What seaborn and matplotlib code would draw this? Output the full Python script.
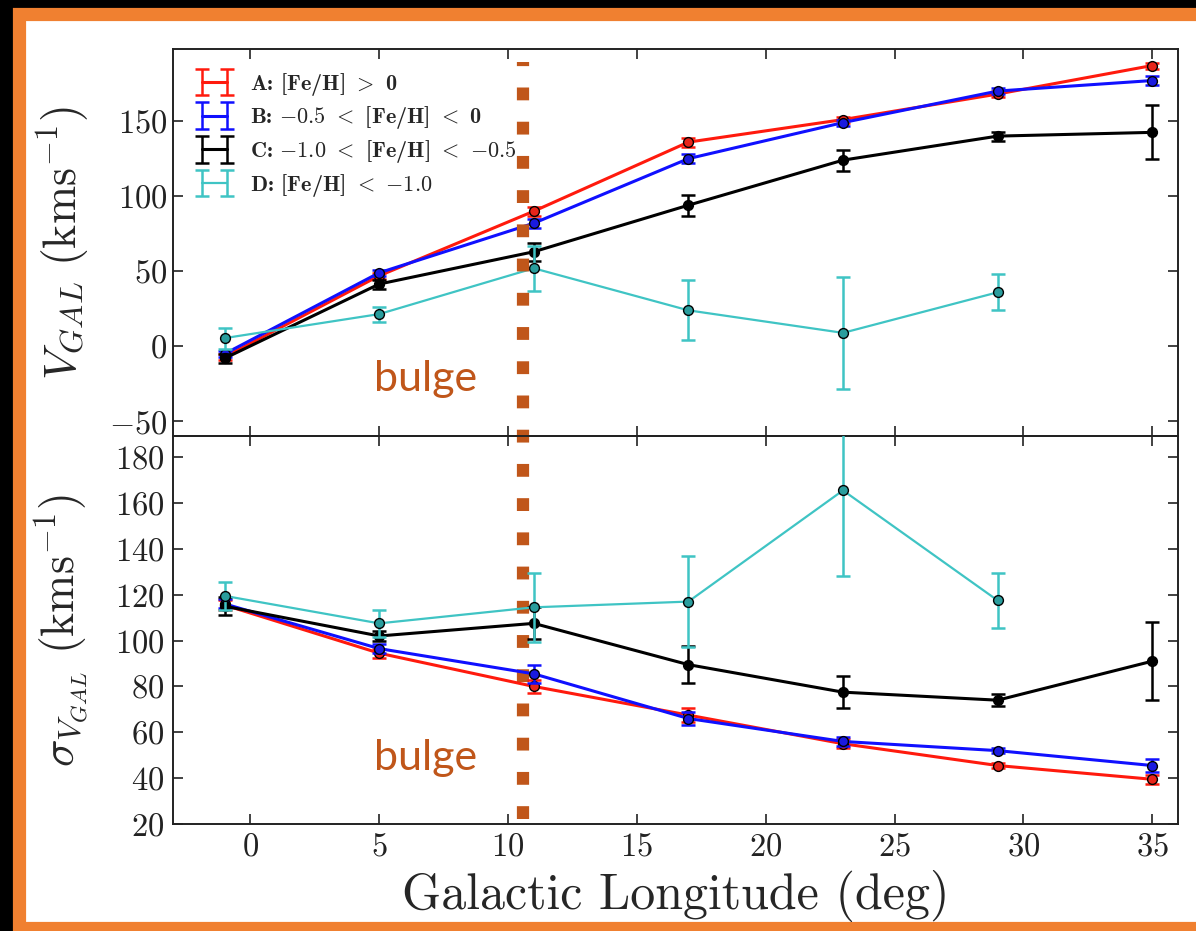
import numpy as np
import pandas as pd
import matplotlib
matplotlib.use("Agg")
import matplotlib.pyplot as plt
import matplotlib.transforms as mtransforms
from matplotlib.patches import Rectangle
from matplotlib.legend_handler import HandlerErrorbar
import seaborn as sns

# ---------------- data ----------------
longitude = [-1, 5, 11, 17, 23, 29, 35]
labels = [r"A: [Fe/H] $>$ 0",
          r"B: $-0.5$ $<$ [Fe/H] $<$ 0",
          r"C: $-1.0$ $<$ [Fe/H] $<$ $-0.5$",
          r"D: [Fe/H] $<$ $-1.0$"]

# mean Galactic velocity (km/s)
v_A = [-7, 47, 90, 136, 151, 168, 187]
v_B = [-5, 49, 82, 125, 149, 170, 177]
v_C = [-8, 41.5, 63, 94, 124, 140, 142.5]
v_D = [5.5, 21.5, 52, 24, 9, 36, np.nan]
ve_A = [2, 2, 3, 3, 2, 2, 2]
ve_B = [2, 2, 3, 3, 2, 2, 3]
ve_C = [3, 3, 6, 7, 7, 3, 18]
ve_D = [7, 5, 15, 20, 37.5, 12, np.nan]

# velocity dispersion (km/s)
s_A = [115.5, 94.5, 80, 67.5, 55, 45.5, 39.5]
s_B = [116, 96.5, 85.5, 66, 56, 52, 45.5]
s_C = [115, 102, 107.5, 89.5, 77.5, 74, 91]
s_D = [119.5, 107.5, 114.5, 117, 165.5, 117.5, np.nan]
se_A = [2, 2, 3, 3, 2, 1, 2]
se_B = [2, 2, 4, 3, 2, 1, 3]
se_C = [4, 2, 7, 8, 7, 2.5, 17]
se_D = [6, 6, 15, 20, 37.5, 12, np.nan]

colors = ["#ff1a0d", "#1010ff", "#000000", "#3fc4c4"]
marker_faces = ["#e8251a", "#1a1ae0", "#000000", "#2a9d9d"]
line_w = [2.2, 2.2, 2.2, 1.6]
bulge_x = 10.6
bulge_color = "#c0561a"

# ---------------- style ----------------
sns.set_theme(style="ticks")
plt.rcParams.update({
    "font.family": ["cmr10", "DejaVu Serif"],
    "mathtext.fontset": "cm",
    "axes.formatter.use_mathtext": True,
    "axes.unicode_minus": True,
    "xtick.direction": "in",
    "ytick.direction": "in",
    "xtick.top": True,
    "ytick.right": True,
    "xtick.major.size": 7,
    "ytick.major.size": 7,
    "xtick.major.width": 1.2,
    "ytick.major.width": 1.2,
    "axes.linewidth": 1.4,
    "axes.edgecolor": "#222222",
    "xtick.color": "#222222",
    "ytick.color": "#222222",
})

fig = plt.figure(figsize=(11.96, 9.31), dpi=100, facecolor="black")
# white card with orange frame
fig.patches.append(Rectangle((18.5 / 1196, 3 / 931), 1.2, 1 - 17 / 931,
                             transform=fig.transFigure, facecolor="white",
                             edgecolor="#f08030", linewidth=9.5, zorder=-10))

gs = fig.add_gridspec(2, 1, left=173 / 1196, right=1178 / 1196,
                      top=1 - 49 / 931, bottom=1 - 824 / 931, hspace=0)
ax1 = fig.add_subplot(gs[0])
ax2 = fig.add_subplot(gs[1], sharex=ax1)
ax1.set_facecolor("none")
ax2.set_facecolor("none")

def draw(ax, ys, errs, with_label):
    for i, (y, e) in enumerate(zip(ys, errs)):
        y = np.asarray(y, float)
        e = np.asarray(e, float)
        ax.errorbar(longitude, y, yerr=e, fmt="-", color=colors[i],
                    lw=line_w[i], elinewidth=1.8, capsize=5, capthick=1.8,
                    label=labels[i] if with_label else None, zorder=2 + i)
        df = pd.DataFrame({"l": longitude, "v": y}).dropna()
        sns.scatterplot(data=df, x="l", y="v", ax=ax, color=marker_faces[i],
                        edgecolor="black", linewidth=1.0, s=50,
                        legend=False, zorder=3 + i)

draw(ax1, [v_A, v_B, v_C, v_D], [ve_A, ve_B, ve_C, ve_D], True)
draw(ax2, [s_A, s_B, s_C, s_D], [se_A, se_B, se_C, se_D], False)

ax1.set_xlim(-3, 36)
ax1.set_ylim(-60, 198)
ax2.set_ylim(20, 189)
ax1.set_yticks([-50, 0, 50, 100, 150])
ax2.set_yticks([20, 40, 60, 80, 100, 120, 140, 160, 180])
ax2.set_xticks([0, 5, 10, 15, 20, 25, 30, 35])
ax1.tick_params(labelbottom=False, labelsize=23.5, pad=4)
ax2.tick_params(labelsize=23.5, pad=6)
for ax in (ax1, ax2):
    ax.set_xlabel("")
    for s in ax.spines.values():
        s.set_visible(True)

ax1.set_ylabel(r"$V_{GAL}\ (\mathrm{kms}^{-1})$", fontsize=33)
ax2.set_ylabel(r"$\sigma_{V_{GAL}}\ (\mathrm{kms}^{-1})$", fontsize=33)
ax2.set_xlabel("Galactic Longitude (deg)", fontsize=36, labelpad=6)
ax1.yaxis.set_label_coords(-0.082, 0.5)
ax2.yaxis.set_label_coords(-0.082, 0.5)

leg = ax1.legend(loc="upper left", frameon=False, numpoints=2,
                 handler_map={matplotlib.container.ErrorbarContainer:
                              HandlerErrorbar(numpoints=2, xerr_size=0.5, yerr_size=0.6)},
                 prop={"family": ["cmb10", "DejaVu Serif"], "size": 16},
                 handlelength=1.7, handletextpad=0.75, labelspacing=0.3,
                 borderaxespad=0.4, bbox_to_anchor=(0.005, 0.99))

# bulge boundary marker (dotted thick line across both panels)
trans = mtransforms.blended_transform_factory(ax1.transData, ax1.transAxes)
ax1.plot([bulge_x, bulge_x], [-0.986, 0.967], transform=trans, clip_on=False,
         color=bulge_color, lw=8.8, linestyle=(0, (1.05, 1.75)),
         solid_capstyle="butt", dash_capstyle="butt", zorder=20)

for ax, yv in ((ax1, -22), (ax2, 49)):
    ax.text(6.8, yv, "bulge", color=bulge_color, fontsize=31,
            family=["Lato", "DejaVu Sans"], fontweight="normal",
            ha="center", va="center", zorder=21)

fig.savefig("out.png", dpi=100, facecolor=fig.get_facecolor())
